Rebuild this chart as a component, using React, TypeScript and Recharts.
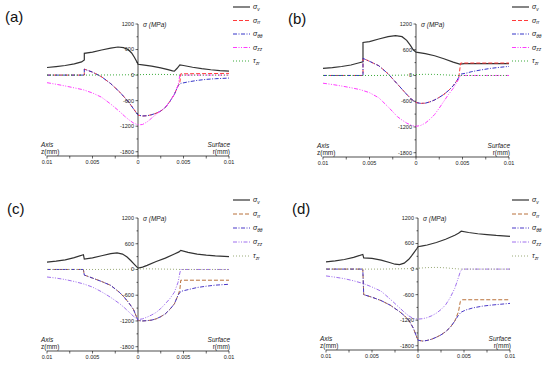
import React from 'react';
import { LineChart, Line, XAxis, YAxis, ReferenceLine } from 'recharts';

type P = [number, number][];

// ---------- Panel (a) ----------
const aSv: P = [[-0.01,178],[-0.009,200],[-0.008,225],[-0.007,262],[-0.0062,310],[-0.0059,355],[-0.0059,510],[-0.005,540],[-0.004,590],[-0.003,635],[-0.0022,660],[-0.0016,645],[-0.0011,600],[-0.0007,520],[-0.0004,420],[-0.0001,300],[0,255],[0.0005,240],[0.0015,210],[0.0025,170],[0.0033,130],[0.0038,100],[0.004,92],[0.0043,160],[0.0046,240],[0.005,225],[0.006,185],[0.007,150],[0.008,125],[0.009,105],[0.01,95]];
const aSrr: P = [[-0.01,0],[-0.0059,0],[-0.0059,140],[-0.005,70],[-0.004,-40],[-0.003,-200],[-0.002,-400],[-0.0015,-520],[-0.001,-640],[-0.0005,-790],[0,-940],[0.0005,-960],[0.001,-955],[0.0015,-930],[0.002,-895],[0.0025,-845],[0.003,-760],[0.0035,-620],[0.004,-450],[0.0044,-250],[0.0046,-180],[0.0047,30],[0.01,40]];
const aStt: P = [[-0.01,0],[-0.0059,0],[-0.0059,140],[-0.005,70],[-0.004,-40],[-0.003,-200],[-0.002,-400],[-0.0015,-520],[-0.001,-640],[-0.0005,-790],[0,-940],[0.0005,-960],[0.001,-955],[0.0015,-930],[0.002,-895],[0.0025,-845],[0.003,-760],[0.0035,-620],[0.004,-450],[0.0044,-250],[0.0047,-195],[0.0055,-160],[0.0065,-125],[0.0075,-100],[0.0085,-85],[0.01,-70]];
const aSzz: P = [[-0.01,-178],[-0.009,-215],[-0.008,-255],[-0.007,-300],[-0.006,-345],[-0.005,-420],[-0.004,-520],[-0.003,-680],[-0.002,-860],[-0.0015,-960],[-0.001,-1050],[-0.0005,-1125],[0,-1170],[0.0005,-1160],[0.001,-1100],[0.0015,-1010],[0.002,-920],[0.0025,-840],[0.003,-760],[0.0035,-620],[0.004,-450],[0.0044,-250],[0.0046,0],[0.01,0]];
const aTzr: P = [[-0.01,0],[-0.006,0],[-0.002,5],[0,10],[0.002,18],[0.004,10],[0.0046,0],[0.01,0]];

// ---------- Panel (b) ----------
const bSv: P = [[-0.01,165],[-0.009,185],[-0.008,210],[-0.007,245],[-0.0062,290],[-0.0057,320],[-0.0057,770],[-0.005,790],[-0.004,850],[-0.003,905],[-0.0022,930],[-0.0015,905],[-0.001,820],[-0.0006,700],[-0.0003,600],[0,545],[0.001,510],[0.002,460],[0.003,390],[0.004,310],[0.0047,265],[0.0052,275],[0.01,275]];
const bSrr: P = [[-0.01,0],[-0.0057,0],[-0.0057,400],[-0.005,330],[-0.004,227],[-0.003,40],[-0.002,-200],[-0.0015,-320],[-0.001,-440],[-0.0005,-550],[0,-630],[0.0005,-650],[0.001,-645],[0.0015,-615],[0.002,-570],[0.0025,-510],[0.003,-440],[0.0035,-350],[0.004,-240],[0.0044,-120],[0.0046,-40],[0.0048,290],[0.01,290]];
const bStt: P = [[-0.01,0],[-0.0057,0],[-0.0057,400],[-0.005,330],[-0.004,227],[-0.003,40],[-0.002,-200],[-0.0015,-320],[-0.001,-440],[-0.0005,-550],[0,-630],[0.0005,-650],[0.001,-645],[0.0015,-615],[0.002,-570],[0.0025,-510],[0.003,-440],[0.0035,-350],[0.004,-240],[0.0044,-120],[0.0046,-40],[0.0048,30],[0.0055,60],[0.006,90],[0.007,130],[0.008,165],[0.009,190],[0.01,212]];
const bSzz: P = [[-0.01,-180],[-0.009,-210],[-0.008,-245],[-0.007,-285],[-0.006,-330],[-0.005,-400],[-0.004,-520],[-0.003,-730],[-0.002,-960],[-0.0015,-1040],[-0.001,-1110],[-0.0005,-1160],[0,-1185],[0.0005,-1165],[0.001,-1110],[0.0015,-1020],[0.002,-910],[0.0025,-760],[0.003,-600],[0.0035,-440],[0.004,-300],[0.0045,-120],[0.0048,0],[0.01,0]];
const bTzr: P = [[-0.01,0],[-0.004,0],[-0.001,10],[0,20],[0.001,28],[0.002,25],[0.003,15],[0.0045,0],[0.01,0]];

// ---------- Panel (c) ----------
const cSv: P = [[-0.01,171],[-0.009,195],[-0.008,225],[-0.007,275],[-0.006,345],[-0.0059,240],[-0.005,270],[-0.004,320],[-0.003,370],[-0.0023,385],[-0.0017,360],[-0.0012,290],[-0.0008,210],[-0.0004,120],[0,30],[0.0005,55],[0.001,95],[0.002,185],[0.003,265],[0.004,360],[0.0045,410],[0.0047,445],[0.0055,400],[0.0065,360],[0.0075,335],[0.0085,318],[0.01,300]];
const cSrr: P = [[-0.01,0],[-0.006,0],[-0.0059,-130],[-0.005,-200],[-0.004,-280],[-0.003,-370],[-0.002,-540],[-0.0015,-650],[-0.001,-780],[-0.0005,-930],[0,-1190],[0.0005,-1200],[0.001,-1192],[0.0015,-1180],[0.002,-1150],[0.0025,-1100],[0.003,-1035],[0.0035,-930],[0.004,-800],[0.0044,-600],[0.0046,-470],[0.0047,-250],[0.01,-250]];
const cStt: P = [[-0.01,0],[-0.006,0],[-0.0059,-130],[-0.005,-200],[-0.004,-280],[-0.003,-370],[-0.002,-540],[-0.0015,-650],[-0.001,-780],[-0.0005,-930],[0,-1190],[0.0005,-1200],[0.001,-1192],[0.0015,-1180],[0.002,-1150],[0.0025,-1100],[0.003,-1035],[0.0035,-930],[0.004,-800],[0.0044,-600],[0.0047,-510],[0.0055,-470],[0.0065,-420],[0.0075,-390],[0.0085,-365],[0.01,-345]];
const cSzz: P = [[-0.01,-175],[-0.009,-200],[-0.008,-235],[-0.007,-280],[-0.006,-335],[-0.005,-410],[-0.004,-520],[-0.003,-650],[-0.002,-800],[-0.0015,-890],[-0.001,-990],[-0.0005,-1090],[0,-1170],[0.0005,-1150],[0.001,-1110],[0.0015,-1060],[0.002,-1000],[0.0025,-910],[0.003,-800],[0.0035,-680],[0.004,-530],[0.0044,-300],[0.0046,-80],[0.0047,0],[0.01,0]];
const cTzr: P = [[-0.01,0],[-0.004,0],[-0.001,5],[0,12],[0.001,15],[0.002,12],[0.004,5],[0.0047,0],[0.01,0]];

// ---------- Panel (d) ----------
const dSv: P = [[-0.01,170],[-0.009,195],[-0.008,225],[-0.007,275],[-0.006,345],[-0.0059,265],[-0.005,250],[-0.004,210],[-0.003,150],[-0.0025,115],[-0.002,105],[-0.0015,140],[-0.001,230],[-0.0007,310],[-0.0004,400],[-0.0001,490],[0,525],[0.0005,545],[0.001,565],[0.002,625],[0.003,700],[0.004,795],[0.0044,840],[0.0047,890],[0.0055,860],[0.0065,830],[0.0075,810],[0.0085,790],[0.01,770]];
const dSrr: P = [[-0.01,0],[-0.006,0],[-0.0059,-600],[-0.005,-660],[-0.004,-740],[-0.003,-850],[-0.002,-1000],[-0.0015,-1090],[-0.001,-1200],[-0.0005,-1390],[-0.0002,-1560],[0,-1670],[0.0005,-1690],[0.001,-1675],[0.0015,-1645],[0.002,-1600],[0.0025,-1545],[0.003,-1470],[0.0035,-1370],[0.004,-1220],[0.0044,-1000],[0.0046,-760],[0.0048,-720],[0.01,-720]];
const dStt: P = [[-0.01,0],[-0.006,0],[-0.0059,-600],[-0.005,-660],[-0.004,-740],[-0.003,-850],[-0.002,-1000],[-0.0015,-1090],[-0.001,-1200],[-0.0005,-1390],[-0.0002,-1560],[0,-1670],[0.0005,-1690],[0.001,-1675],[0.0015,-1645],[0.002,-1600],[0.0025,-1545],[0.003,-1470],[0.0035,-1370],[0.004,-1220],[0.0044,-1080],[0.0047,-1010],[0.0052,-960],[0.006,-910],[0.007,-870],[0.008,-845],[0.009,-825],[0.01,-805]];
const dSzz: P = [[-0.01,-160],[-0.009,-190],[-0.008,-225],[-0.007,-275],[-0.006,-335],[-0.005,-420],[-0.004,-520],[-0.003,-710],[-0.002,-910],[-0.0015,-1010],[-0.001,-1100],[-0.0005,-1160],[0,-1175],[0.0005,-1165],[0.001,-1140],[0.0015,-1095],[0.002,-1035],[0.0025,-950],[0.003,-840],[0.0035,-670],[0.004,-450],[0.0043,-260],[0.0046,-60],[0.0048,0],[0.01,0]];
const dTzr: P = [[-0.01,0],[-0.004,0],[-0.001,10],[0,20],[0.001,35],[0.002,40],[0.003,30],[0.004,10],[0.0047,0],[0.01,0]];

// ---------- Axes / labels ----------
const xTicks = [-0.01, -0.0075, -0.005, -0.0025, 0, 0.0025, 0.005, 0.0075, 0.01];
const xMajor = [-0.01, -0.005, 0, 0.005, 0.01];
const yTicks = [-1800, -1500, -1200, -900, -600, -300, 0, 300, 600, 900, 1200];
const yMajor = [-1800, -1200, -600, 0, 600, 1200];
const panelLabels = ['(a)', '(b)', '(c)', '(d)'];
const legendSymbols = ['σ', 'σ', 'σ', 'σ', 'τ'];
const legendSubs = ['v', 'rr', 'θθ', 'zz', 'zr'];

const FONT = '"Liberation Sans", Arial, sans-serif';
const W = 275;
const H = 184;

const dashes = ['', '4 2', '4 1.5 1 1.5', '4 1.5 1 1.5 1 1.5', '1 2'];
const widths = [1.2, 1, 1, 1, 1];
const colorsAB = ['#333333', '#ff3b3b', '#3535c8', '#ff3cff', '#3aaa3a'];
const colorsCD = ['#333333', '#b8703a', '#4a38c8', '#a070ee', '#9aaa78'];

type Cfg = {
  idx: number;
  series: P[];
  colors: string[];
  left: number;
  plotW: number;
  top: number;
  plotBottom: number;
  lblX: number;
  lblY: number;
  legX: number;
  legY: number;
  legStep: number;
};

const toData = (p: P) => p.map(([x, y]) => ({ x, y }));

function Panel({ cfg }: { cfg: Cfg }) {
  const xAxisH = 16;
  const cx = cfg.left + cfg.plotW / 2;
  const margin = {
    left: cfg.left - 1,
    right: W - cfg.left - cfg.plotW,
    top: cfg.top,
    bottom: H - cfg.plotBottom - xAxisH,
  };
  const renderYTick = (props: any) => {
    const { y, payload } = props;
    const v = payload.value;
    const major = yMajor.includes(v);
    return (
      <g key={`yt-${v}`}>
        <line x1={cx - (major ? 2.5 : 1.5)} x2={cx} y1={y} y2={y} stroke="#000" strokeWidth={0.6} />
        {major ? (
          <text x={cx - 4} y={y} dy="0.35em" textAnchor="end" fontSize={5.5} fontFamily={FONT} fill="#222">
            {v}
          </text>
        ) : null}
      </g>
    );
  };
  return (
    <div style={{ position: 'relative', width: W, height: H }}>
      <LineChart width={W} height={H} margin={margin}>
        <XAxis
          type="number"
          dataKey="x"
          domain={[-0.01, 0.01]}
          ticks={xTicks}
          interval={0}
          height={xAxisH}
          tickSize={2.5}
          tickMargin={2}
          axisLine={{ stroke: '#000', strokeWidth: 0.7 }}
          tickLine={{ stroke: '#000', strokeWidth: 0.6 }}
          tick={{ fontSize: 5.5, fill: '#222', fontFamily: FONT }}
          tickFormatter={(v: number) => (xMajor.includes(v) ? String(Math.abs(v)) : '')}
        />
        <YAxis
          type="number"
          domain={[-1900, 1200]}
          ticks={yTicks}
          interval={0}
          width={1}
          axisLine={false}
          tickLine={false}
          tick={renderYTick}
        />
        <ReferenceLine x={0} stroke="#000" strokeWidth={0.7} />
        {cfg.series.map((s, i) => (
          <Line
            key={i}
            data={toData(s)}
            dataKey="y"
            type="linear"
            dot={false}
            activeDot={false}
            stroke={cfg.colors[i]}
            strokeWidth={widths[i]}
            strokeDasharray={dashes[i] || undefined}
            isAnimationActive={false}
          />
        ))}
      </LineChart>
      <svg width={W} height={H} style={{ position: 'absolute', left: 0, top: 0, pointerEvents: 'none' }} fontFamily={FONT}>
        <text x={cfg.lblX} y={cfg.lblY} fontSize={15} fill="#111">{panelLabels[cfg.idx]}</text>
        <text x={cx + 5} y={cfg.top + 2.5} fontSize={6.5} fontStyle="italic" fill="#222">σ (MPa)</text>
        <text x={cfg.left - 6} y={cfg.plotBottom - 9} fontSize={6.5} fontStyle="italic" fill="#222">Axis</text>
        <text x={cfg.left - 6} y={cfg.plotBottom - 2} fontSize={6.5} fill="#222">z(mm)</text>
        <text x={cfg.left + cfg.plotW + 1} y={cfg.plotBottom - 9} fontSize={6.5} fontStyle="italic" textAnchor="end" fill="#222">Surface</text>
        <text x={cfg.left + cfg.plotW + 1} y={cfg.plotBottom - 2} fontSize={6.5} textAnchor="end" fill="#222">r(mm)</text>
        {legendSubs.map((sub, i) => {
          const y = cfg.legY + i * cfg.legStep;
          return (
            <g key={sub}>
              <line
                x1={cfg.legX}
                x2={cfg.legX + 17}
                y1={y}
                y2={y}
                stroke={cfg.colors[i]}
                strokeWidth={widths[i]}
                strokeDasharray={dashes[i] || undefined}
              />
              <text x={cfg.legX + 20} y={y + 2} fontSize={7} fontStyle="italic" fill="#222">
                {legendSymbols[i]}
                <tspan dy={1.8} fontSize={4.8}>{sub}</tspan>
              </text>
            </g>
          );
        })}
      </svg>
    </div>
  );
}

const panels: Cfg[] = [
  { idx: 0, series: [aSv, aSrr, aStt, aSzz, aTzr], colors: colorsAB, left: 47, plotW: 182, top: 24, plotBottom: 156, lblX: 5, lblY: 22, legX: 233, legY: 7, legStep: 13.5 },
  { idx: 1, series: [bSv, bSrr, bStt, bSzz, bTzr], colors: colorsAB, left: 48, plotW: 186, top: 24, plotBottom: 157, lblX: 13, lblY: 24, legX: 237, legY: 7, legStep: 13.5 },
  { idx: 2, series: [cSv, cSrr, cStt, cSzz, cTzr], colors: colorsCD, left: 47, plotW: 182, top: 33, plotBottom: 166, lblX: 7, lblY: 29, legX: 233, legY: 15, legStep: 14 },
  { idx: 3, series: [dSv, dSrr, dStt, dSzz, dTzr], colors: colorsCD, left: 51, plotW: 184, top: 33, plotBottom: 165, lblX: 17, lblY: 29, legX: 237, legY: 15, legStep: 14 },
];

export default function App() {
  return (
    <div style={{ position: 'absolute', left: 0, top: 0, width: 550, height: 369, background: '#fff' }}>
      {panels.map((cfg, i) => (
        <div key={i} style={{ position: 'absolute', left: (i % 2) * 275, top: i < 2 ? 0 : 185 }}>
          <Panel cfg={cfg} />
        </div>
      ))}
    </div>
  );
}
